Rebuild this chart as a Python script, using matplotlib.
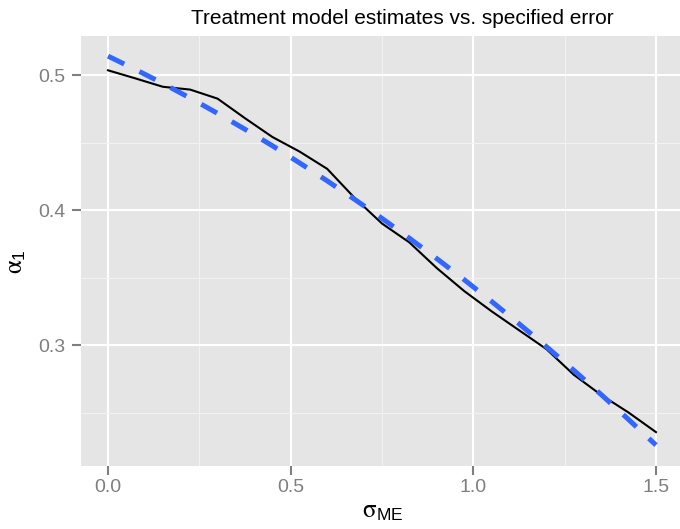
import matplotlib
matplotlib.use("Agg")
import matplotlib.pyplot as plt
from matplotlib.ticker import FixedLocator

plt.rcParams['font.family'] = ['Liberation Sans', 'DejaVu Sans']
plt.rcParams['mathtext.fontset'] = 'custom'
plt.rcParams['mathtext.rm'] = 'STIXGeneral'
plt.rcParams['mathtext.it'] = 'STIXGeneral:italic'
plt.rcParams['mathtext.sf'] = 'Liberation Sans'

# Data
sigma_me = [0.0, 0.075, 0.15, 0.225, 0.3, 0.375, 0.45, 0.525, 0.6, 0.675, 0.75,
            0.825, 0.9, 0.975, 1.05, 1.125, 1.2, 1.275, 1.35, 1.425, 1.5]
alpha_est = [0.5035, 0.4975, 0.4913, 0.4892, 0.4825, 0.468, 0.4541, 0.4432, 0.4305,
             0.409, 0.390, 0.376, 0.357, 0.340, 0.325, 0.311, 0.297, 0.278, 0.263,
             0.250, 0.2355]
alpha_fit = [0.514, 0.5041, 0.4938, 0.4829, 0.4716, 0.4598, 0.4476, 0.4348, 0.4216,
             0.4079, 0.3938, 0.3791, 0.364, 0.3484, 0.3323, 0.3158, 0.2988, 0.2813,
             0.2633, 0.2448, 0.2259]
x_ticks = [0.0, 0.5, 1.0, 1.5]
x_tick_labels = ["0.0", "0.5", "1.0", "1.5"]
x_minor = [0.25, 0.75, 1.25]
y_ticks = [0.3, 0.4, 0.5]
y_tick_labels = ["0.3", "0.4", "0.5"]
y_minor = [0.25, 0.35, 0.45]
title = "Treatment model estimates vs. specified error"

W, H = 680, 529
fig = plt.figure(figsize=(W / 100, H / 100), dpi=100)
ax = fig.add_axes([81 / W, 1 - 466 / H, (680 - 81) / W, (466 - 36) / H])
ax.set_facecolor('#E5E5E5')
for s in ax.spines.values():
    s.set_visible(False)

ax.set_xlim(-0.0739, 1.5658)
ax.set_ylim(0.2104, 0.5289)

ax.xaxis.set_major_locator(FixedLocator(x_ticks))
ax.xaxis.set_minor_locator(FixedLocator(x_minor))
ax.yaxis.set_major_locator(FixedLocator(y_ticks))
ax.yaxis.set_minor_locator(FixedLocator(y_minor))
ax.set_xticklabels(x_tick_labels)
ax.set_yticklabels(y_tick_labels)

ax.grid(which='major', color='white', lw=1.5)
ax.grid(which='minor', color='#F2F2F2', lw=0.75)
ax.set_axisbelow(True)

ax.tick_params(which='major', length=6.5, width=1.5, color='#7F7F7F',
               labelcolor='#7F7F7F', labelsize=14, direction='out')
ax.tick_params(axis='x', which='major', pad=2.5)
ax.tick_params(axis='y', which='major', pad=4.5)
ax.tick_params(which='minor', length=0)

ax.plot(sigma_me, alpha_est, color='black', lw=1.5, zorder=3)
ax.plot(sigma_me, alpha_fit, color='#3366FF', lw=3.6, linestyle=(0, (3.6, 3.4)),
        dash_capstyle='butt', zorder=4)

fig.text(402 / W, 1 - 18 / H, title, ha='center', va='center', fontsize=15,
         color='black')
fig.text(383 / W, 1 - 511 / H, r'$\mathrm{\sigma}_{\mathsf{ME}}$', ha='center',
         va='center', fontsize=18, color='black')
fig.text(16 / W, 1 - 262 / H, r'$\mathrm{\alpha}_{\mathsf{1}}$', ha='center',
         va='center', fontsize=18, color='black', rotation=90)

fig.savefig('out.png', dpi=100)
